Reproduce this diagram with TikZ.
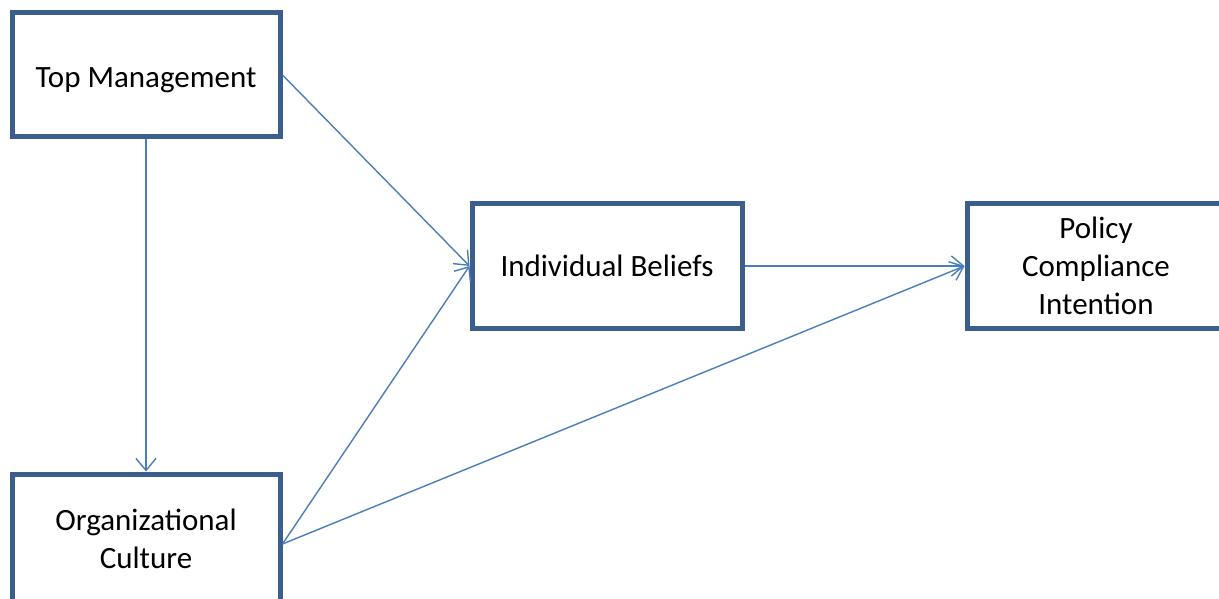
\documentclass[tikz,border=0pt]{standalone}
\usepackage{fontspec}
\setmainfont{Carlito}
\usetikzlibrary{arrows.meta}

\definecolor{boxblue}{HTML}{3B5E8C}
\definecolor{linkblue}{HTML}{4A7EBB}

\tikzset{
    box/.style={draw=boxblue, line width=5pt, fill=white, align=center,
        minimum width=268pt, minimum height=124pt,
        font=\fontsize{31}{38}\selectfont},
    link/.style={draw=linkblue, line width=1.4pt,
        -{Straight Barb[length=12pt, width=20pt, line width=1.4pt]}}
}

\begin{document}
\begin{tikzpicture}[x=1pt, y=-1pt]
    \useasboundingbox[fill=white] (0,0) rectangle (1219,599);

    \node[box, text height=30pt] (tm) at (146,75) {Top Management};
    \node[box, minimum height=130pt] (oc) at (146,539) {Organizational\\Culture};
    \node[box, minimum width=270pt] (ib) at (607,266) {Individual Beliefs};
    \node[box, minimum width=258pt] (pci) at (1096,266) {Policy\\Compliance\\Intention};

    % paths between the boxes
    \draw[link] (tm.south) -- (oc.north);
    \draw[link] (tm.east) -- (ib.west);
    \draw[link] ([yshift=-5pt]oc.east) -- (ib.west);
    \draw[link] ([yshift=-5pt]oc.east) -- (pci.west);
    \draw[link] (ib.east) -- (pci.west);

\end{tikzpicture}
\end{document}
